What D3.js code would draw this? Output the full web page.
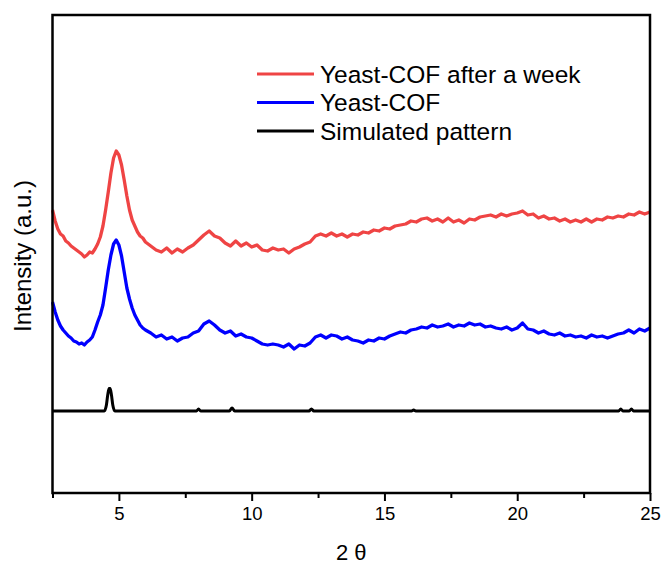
<!DOCTYPE html>
<html>
<head>
<meta charset="utf-8">
<script src="https://cdn.jsdelivr.net/npm/d3@7"></script>
<style>
  body { margin: 0; background: #fff; }
  text { font-family: "Liberation Sans", Arial, sans-serif; fill: #000; }
</style>
</head>
<body>
<script>
// 2-theta grid shared by the two measured patterns
var twoTheta = [2.5, 2.6, 2.7, 2.8, 2.9, 3.0, 3.1, 3.2, 3.3, 3.4, 3.5, 3.6, 3.7, 3.8, 3.9,
  4.0, 4.1, 4.2, 4.3, 4.4, 4.5, 4.6, 4.7, 4.8, 4.9, 5.0, 5.1, 5.2, 5.3, 5.4, 5.5, 5.6, 5.7, 5.8, 5.9, 6.0,
  6.2, 6.4, 6.6, 6.8, 7.0, 7.2, 7.4, 7.6, 7.8, 8.0, 8.2, 8.4, 8.6, 8.8, 9.0, 9.2, 9.4, 9.6, 9.8,
  10.0, 10.2, 10.4, 10.6, 10.8, 11.0, 11.2, 11.4, 11.6, 11.8, 12.0, 12.2, 12.4, 12.6, 12.8,
  13.0, 13.2, 13.4, 13.6, 13.8, 14.0, 14.2, 14.4, 14.6, 14.8, 15.0, 15.2, 15.4, 15.6, 15.8,
  16.0, 16.2, 16.4, 16.6, 16.8, 17.0, 17.2, 17.4, 17.6, 17.8, 18.0, 18.2, 18.4, 18.6, 18.8,
  19.0, 19.2, 19.4, 19.6, 19.8, 20.0, 20.2, 20.4, 20.6, 20.8, 21.0, 21.2, 21.4, 21.6, 21.8,
  22.0, 22.2, 22.4, 22.6, 22.8, 23.0, 23.2, 23.4, 23.6, 23.8, 24.0, 24.2, 24.4, 24.6, 24.8, 25.0];

var yeastWeek = [283, 272, 264, 259, 257, 252, 250, 247, 245, 243, 241, 239, 236, 238, 241,
  240, 244, 249, 256, 267, 283, 301, 320, 335, 342, 338, 328, 313, 297, 283, 273, 267, 261, 257, 255, 251,
  247, 243, 241, 245, 240, 244, 241, 245, 248, 253, 258, 262, 257, 255, 250, 247, 252, 247, 250,
  246, 248, 243, 242, 245, 243, 244, 240, 244, 246, 249, 251, 257, 259, 257,
  260, 257, 259, 256, 259, 258, 261, 260, 263, 262, 265, 264, 267, 268, 269,
  272, 271, 274, 275, 272, 274, 271, 275, 271, 273, 270, 274, 273, 276, 277,
  278, 276, 279, 277, 279, 280, 282, 278, 279, 275, 277, 274, 275, 272, 274,
  271, 273, 271, 274, 271, 274, 273, 276, 275, 277, 276, 279, 278, 281, 279, 281];

var yeastCof = [191, 181, 173, 167, 163, 160, 157, 155, 152, 151, 149, 150, 148, 151, 153,
  156, 163, 171, 178, 188, 205, 223, 238, 249, 253, 248, 237, 221, 205, 194, 185, 178, 173, 168, 165, 163,
  160, 156, 158, 154, 156, 152, 155, 156, 160, 162, 169, 172, 168, 163, 160, 162, 157, 159, 156,
  155, 152, 149, 148, 149, 148, 146, 149, 144, 148, 147, 150, 156, 158, 155,
  158, 157, 154, 156, 153, 152, 150, 153, 152, 155, 154, 157, 159, 161, 160,
  163, 164, 166, 165, 168, 166, 167, 169, 166, 168, 167, 170, 168, 169, 166,
  167, 165, 164, 166, 163, 165, 170, 164, 163, 160, 162, 159, 158, 160, 157,
  158, 156, 157, 155, 158, 156, 157, 155, 157, 159, 160, 163, 160, 164, 162, 165];

// simulated pattern (sharp reflections on a flat baseline)
var simTheta = [2.5, 4.45, 4.53, 4.58, 4.63, 4.67, 4.72, 4.77, 4.85, 7.92, 8.0, 8.08,
  9.16, 9.26, 9.36, 12.16, 12.25, 12.34, 16.02, 16.1, 16.18, 23.82, 23.9, 23.98, 24.22, 24.3, 24.38, 25.0];
var simulated = [82, 82, 88, 98, 104.5, 104.5, 98, 88, 82, 82, 84, 82,
  82, 85, 82, 82, 84, 82, 82, 83, 82, 82, 84, 82, 82, 84, 82, 82];

var xTicks = [5, 10, 15, 20, 25];
var xMinorTicks = [2.5, 7.5, 12.5, 17.5, 22.5];

var series = [
  { name: "Yeast-COF after a week", color: "#ef4444", x: twoTheta, y: yeastWeek },
  { name: "Yeast-COF", color: "#0000ff", x: twoTheta, y: yeastCof },
  { name: "Simulated pattern", color: "#000000", x: simTheta, y: simulated }
];

var W = 664, H = 567;
var margin = { left: 52.5, top: 15, right: 14, bottom: 74 };
var width = W - margin.left - margin.right;
var height = H - margin.top - margin.bottom;

var svg = d3.select("body").append("svg")
  .attr("width", W).attr("height", H);
var g = svg.append("g")
  .attr("transform", "translate(" + margin.left + "," + margin.top + ")");

var x = d3.scaleLinear().domain([2.5, 25]).range([0, width]);
var y = d3.scaleLinear().domain([0, 478]).range([height, 0]);

var line = d3.line()
  .x(function (d) { return x(d[0]); })
  .y(function (d) { return y(d[1]); });

// curves (drawn bottom to top)
series.slice().reverse().forEach(function (s) {
  var pts = s.x.map(function (v, i) { return [v, s.y[i]]; });
  var sim = s.name === "Simulated pattern";
  g.append("path")
    .datum(pts)
    .attr("fill", "none")
    .attr("stroke", s.color)
    .attr("stroke-width", sim ? 3 : 3.3)
    .attr("stroke-linejoin", "round")
    .attr("d", sim ? line.curve(d3.curveMonotoneX) : line.curve(d3.curveLinear));
});

// x axis ticks
var ax = g.append("g").attr("transform", "translate(0," + height + ")")
  .call(d3.axisBottom(x).tickValues(xTicks).tickSize(8).tickPadding(6).tickFormat(d3.format("d")));
ax.select(".domain").remove();
ax.selectAll("line").attr("stroke", "#000").attr("stroke-width", 2);
ax.selectAll("text").style("font-size", "18.5px").style("font-family", "Liberation Sans, Arial, sans-serif");

var axm = g.append("g").attr("transform", "translate(0," + height + ")")
  .call(d3.axisBottom(x).tickValues(xMinorTicks).tickSize(5).tickFormat(""));
axm.select(".domain").remove();
axm.selectAll("line").attr("stroke", "#000").attr("stroke-width", 2);

// frame
g.append("rect")
  .attr("x", 0).attr("y", 0)
  .attr("width", width).attr("height", height)
  .attr("fill", "none").attr("stroke", "#000").attr("stroke-width", 2.5);

// axis titles
svg.append("text")
  .attr("x", margin.left + width / 2).attr("y", 560)
  .attr("text-anchor", "middle")
  .style("font-size", "22px")
  .text("2 θ");

svg.append("text")
  .attr("transform", "translate(31,256) rotate(-90)")
  .attr("text-anchor", "middle")
  .style("font-size", "24px")
  .text("Intensity (a.u.)");

// legend
var legend = svg.append("g").attr("transform", "translate(257,74)");
series.forEach(function (s, i) {
  var row = legend.append("g").attr("transform", "translate(0," + (i * 28.5) + ")");
  row.append("line")
    .attr("x1", 0).attr("x2", 57)
    .attr("stroke", s.color).attr("stroke-width", 3);
  row.append("text")
    .attr("x", 63).attr("y", 8.5)
    .style("font-size", "24.5px")
    .text(s.name);
});
</script>
</body>
</html>
